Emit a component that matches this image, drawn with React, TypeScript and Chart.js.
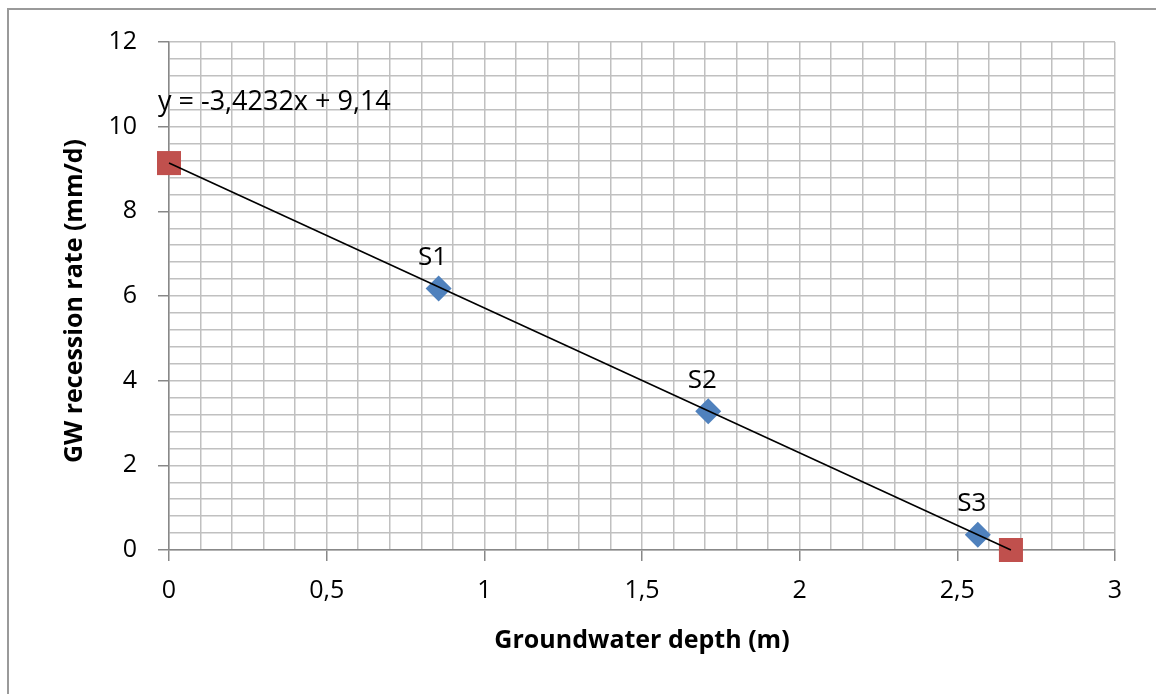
import React, { useEffect, useRef } from "react";
import { Chart, registerables } from "chart.js";

Chart.register(...registerables);

// ---- data ----
const sampleNames: string[] = ["S1", "S2", "S3"];
const depthValues: number[] = [0.855, 1.71, 2.565];
const recessionValues: number[] = [6.18, 3.28, 0.36];
const interceptX: number[] = [0, 2.67];
const interceptY: number[] = [9.14, 0];
const trendX: number[] = [0, 2.67];
const trendY: number[] = [9.14, 0];
const equationText = "y = -3,4232x + 9,14";
const xTitle = "Groundwater depth (m)";
const yTitle = "GW recession rate (mm/d)";
const xMin = 0;
const xMax = 3;
const xMinorStep = 0.1;
const xMajorStep = 0.5;
const yMin = 0;
const yMax = 12;
const yMinorStep = 0.4;
const yMajorStep = 2;

// ---- styles ----
const FONT = "'Open Sans', 'Noto Sans', sans-serif";
const BLUE = "#4F81BD";
const RED = "#C0504D";
const GRID = "#c0c0c0";
const AXIS = "#888888";

const isMultiple = (v: number, step: number) => {
  const r = v / step;
  return Math.abs(r - Math.round(r)) < 1e-6;
};
const fmt = (v: number) => String(Math.round(v * 1000) / 1000).replace(".", ",");

const overlayPlugin = {
  id: "overlay",
  afterDatasetsDraw(chart: any) {
    const { ctx } = chart;
    const xs = chart.scales.x;
    const ys = chart.scales.y;
    ctx.save();
    // frame
    ctx.strokeStyle = "#9a9a9a";
    ctx.lineWidth = 2;
    ctx.beginPath();
    ctx.moveTo(8, 694);
    ctx.lineTo(8, 9);
    ctx.lineTo(1156, 9);
    ctx.stroke();

    // point labels
    ctx.fillStyle = "#000";
    ctx.font = `26px ${FONT}`;
    ctx.textAlign = "center";
    ctx.textBaseline = "middle";
    sampleNames.forEach((name, i) => {
      const px = xs.getPixelForValue(depthValues[i]);
      const py = ys.getPixelForValue(recessionValues[i]);
      ctx.fillText(name, px - 6, py - 31);
    });

    // equation
    ctx.font = `27px ${FONT}`;
    ctx.textAlign = "left";
    ctx.fillText(equationText, xs.getPixelForValue(0) - 11, ys.getPixelForValue(10.58));

    // axis titles
    ctx.font = `bold 25px ${FONT}`;
    ctx.textAlign = "center";
    ctx.fillText(xTitle, (xs.left + xs.right) / 2, 641);
    ctx.translate(75, (ys.top + ys.bottom) / 2 + 5);
    ctx.rotate(-Math.PI / 2);
    ctx.fillText(yTitle, 0, 0);
    ctx.restore();
  },
};

export default function App() {
  const ref = useRef<HTMLCanvasElement | null>(null);
  useEffect(() => {
    if (!ref.current) return;
    const chart = new Chart(ref.current, {
      type: "scatter",
      data: {
        datasets: [
          {
            label: "trend",
            data: trendX.map((x, i) => ({ x, y: trendY[i] })),
            showLine: true,
            borderColor: "#000",
            borderWidth: 1.6,
            pointRadius: 0,
            clip: false,
          } as any,
          {
            label: "intercepts",
            data: interceptX.map((x, i) => ({ x, y: interceptY[i] })),
            pointStyle: "rect",
            pointRadius: 17,
            pointBackgroundColor: RED,
            pointBorderColor: RED,
            pointBorderWidth: 0,
            clip: false,
          } as any,
          {
            label: "samples",
            data: depthValues.map((x, i) => ({ x, y: recessionValues[i] })),
            pointStyle: "rectRot",
            pointRadius: 13,
            pointBackgroundColor: BLUE,
            pointBorderColor: BLUE,
            pointBorderWidth: 0,
            clip: false,
          } as any,
        ],
      },
      options: {
        animation: false,
        responsive: false,
        maintainAspectRatio: false,
        layout: { padding: { top: 42, right: 41, left: 0, bottom: 0 } },
        plugins: { legend: { display: false }, tooltip: { enabled: false } },
        scales: {
          x: {
            type: "linear",
            min: xMin,
            max: xMax,
            afterFit: (s: any) => {
              s.height = 144;
            },
            ticks: {
              stepSize: xMinorStep,
              autoSkip: false,
              maxRotation: 0,
              padding: 15,
              color: "#000",
              font: { family: FONT, size: 25 },
              callback: (v: any) => (isMultiple(Number(v), xMajorStep) ? fmt(Number(v)) : ""),
            },
            grid: {
              color: GRID,
              lineWidth: 1.5,
              tickLength: 11,
              tickWidth: 1.5,
              tickColor: (c: any) =>
                c.tick && isMultiple(c.tick.value, xMajorStep) ? AXIS : "rgba(0,0,0,0)",
            },
            border: { color: AXIS, width: 1.5 },
          },
          y: {
            type: "linear",
            min: yMin,
            max: yMax,
            afterFit: (s: any) => {
              s.width = 169;
            },
            ticks: {
              stepSize: yMinorStep,
              autoSkip: false,
              padding: 21,
              color: "#000",
              font: { family: FONT, size: 25 },
              callback: (v: any) => (isMultiple(Number(v), yMajorStep) ? fmt(Number(v)) : ""),
            },
            grid: {
              color: GRID,
              lineWidth: 1.5,
              tickLength: 11,
              tickWidth: 1.5,
              tickColor: (c: any) =>
                c.tick && isMultiple(c.tick.value, yMajorStep) ? AXIS : "rgba(0,0,0,0)",
            },
            border: { color: AXIS, width: 1.5 },
          },
        },
      },
      plugins: [overlayPlugin],
    });
    return () => chart.destroy();
  }, []);

  return (
    <div style={{ position: "fixed", left: 0, top: 0, width: 1156, height: 694, background: "#fff" }}>
      <canvas ref={ref} width={1156} height={694} style={{ display: "block" }} />
    </div>
  );
}
